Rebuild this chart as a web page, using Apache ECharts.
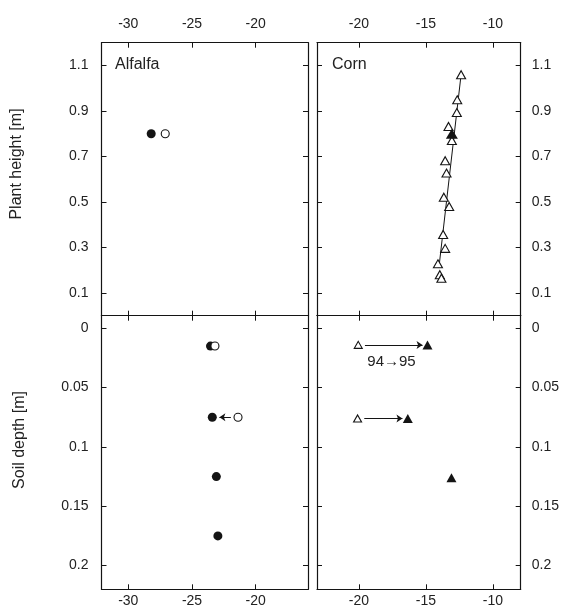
<!DOCTYPE html>
<html>
<head>
<meta charset="utf-8">
<script src="https://cdn.jsdelivr.net/npm/echarts@6/dist/echarts.min.js"></script>
<style>
  html, body { margin: 0; padding: 0; background: #fff; }
  #chart { width: 568px; height: 616px; }
</style>
</head>
<body>
<div id="chart"></div>
<script>
// Tick values for the four panels
const xTicksAlfalfa = [-30, -25, -20];
const xTicksCorn = [-20, -15, -10];
const heightTicks = [0.1, 0.3, 0.5, 0.7, 0.9, 1.1];
const depthTicks = [0, 0.05, 0.1, 0.15, 0.2];

// Alfalfa, plant height (x = delta value, y = height in m)
const alfalfaPlant94 = [[-27.1, 0.8]];
const alfalfaPlant95 = [[-28.2, 0.8]];

// Corn, plant height
const cornPlant94 = [
  [-12.37, 1.059], [-12.66, 0.949], [-12.69, 0.893], [-13.31, 0.832],
  [-13.06, 0.770], [-13.56, 0.681], [-13.46, 0.627], [-13.66, 0.521],
  [-13.26, 0.480], [-13.71, 0.357], [-13.56, 0.296], [-14.10, 0.228],
  [-13.96, 0.180], [-13.84, 0.165]
];
const cornPlant95 = [[-13.06, 0.80]];
const cornFit = [[-14.03, 0.21], [-12.37, 1.06]];

// Alfalfa, soil depth (y = depth in m)
const alfalfaSoil94 = [[-23.2, 0.015], [-21.39, 0.075]];
const alfalfaSoil95 = [[-23.55, 0.015], [-23.41, 0.075], [-23.09, 0.125], [-22.97, 0.175]];
const alfalfaShift = [[[-21.95, 0.075], [-22.85, 0.075]]];

// Corn, soil depth
const cornSoil94 = [[-20.05, 0.014], [-20.1, 0.076]];
const cornSoil95 = [[-14.88, 0.014], [-16.35, 0.076], [-13.09, 0.126]];
const cornShift = [
  [[-19.55, 0.014], [-15.25, 0.014]],
  [[-19.6, 0.076], [-16.75, 0.076]]
];

const INK = '#141414';
const FONT = 'Liberation Sans, Arial, Helvetica, sans-serif';

const grids = [
  { left: 101.5, top: 42.7, width: 206.5, height: 273 },
  { left: 317, top: 42.7, width: 203.7, height: 273 },
  { left: 101.5, top: 315.7, width: 206.5, height: 273.6 },
  { left: 317, top: 315.7, width: 203.7, height: 273.6 }
];

function xAxis(gridIndex, position, ticks, showLabels, min, max) {
  return {
    type: 'value', gridIndex, position, min, max,
    axisLine: { show: true, onZero: false, lineStyle: { color: INK, width: 1.2 } },
    axisTick: { show: true, inside: true, length: 5, customValues: ticks, lineStyle: { color: INK, width: 1 } },
    axisLabel: {
      show: showLabels, customValues: ticks, color: '#222', fontSize: 14, fontFamily: FONT,
      margin: position === 'top' ? 12 : 5
    },
    splitLine: { show: false }
  };
}

function yAxis(gridIndex, position, ticks, showLabels, min, max, inverse) {
  return {
    type: 'value', gridIndex, position, min, max, inverse: !!inverse,
    axisLine: { show: true, onZero: false, lineStyle: { color: INK, width: 1.2 } },
    axisTick: { show: true, inside: true, length: 5, customValues: ticks, lineStyle: { color: INK, width: 1 } },
    axisLabel: {
      show: showLabels, customValues: ticks, color: '#222', fontSize: 14, fontFamily: FONT,
      margin: position === 'left' ? 13 : 11
    },
    splitLine: { show: false }
  };
}

const xA = [-32.1, -15.9], xC = [-23.13, -7.92];
const yH = [0, 1.2], yD = [-0.0106, 0.22];

const xAxes = [
  xAxis(0, 'top', xTicksAlfalfa, true, ...xA),
  xAxis(0, 'bottom', xTicksAlfalfa, false, ...xA),
  xAxis(1, 'top', xTicksCorn, true, ...xC),
  xAxis(1, 'bottom', xTicksCorn, false, ...xC),
  xAxis(2, 'top', xTicksAlfalfa, false, ...xA),
  xAxis(2, 'bottom', xTicksAlfalfa, true, ...xA),
  xAxis(3, 'top', xTicksCorn, false, ...xC),
  xAxis(3, 'bottom', xTicksCorn, true, ...xC)
];
const yAxes = [
  yAxis(0, 'left', heightTicks, true, ...yH),
  yAxis(0, 'right', heightTicks, false, ...yH),
  yAxis(1, 'left', heightTicks, false, ...yH),
  yAxis(1, 'right', heightTicks, true, ...yH),
  yAxis(2, 'left', depthTicks, true, ...yD, true),
  yAxis(2, 'right', depthTicks, false, ...yD, true),
  yAxis(3, 'left', depthTicks, false, ...yD, true),
  yAxis(3, 'right', depthTicks, true, ...yD, true)
];

const openStyle = { color: '#fff', borderColor: INK, borderWidth: 1.1, opacity: 1 };
const solidStyle = { color: INK, borderColor: INK, borderWidth: 0, opacity: 1 };

function scatter(data, xi, yi, symbol, size, style, z) {
  return {
    type: 'scatter', data, xAxisIndex: xi, yAxisIndex: yi, symbol, symbolSize: size,
    itemStyle: style, z: z || 3, silent: true, emphasis: { disabled: true }
  };
}

function arrows(pairs, xi, yi) {
  return {
    type: 'lines', coordinateSystem: 'cartesian2d', xAxisIndex: xi, yAxisIndex: yi,
    data: pairs.map(c => ({ coords: c })),
    symbol: ['none', 'arrow'], symbolSize: [4, 6],
    lineStyle: { color: INK, width: 1, opacity: 1, curveness: 0 },
    silent: true, z: 2
  };
}

const series = [
  // Alfalfa plant
  scatter(alfalfaPlant95, 0, 0, 'circle', 9, solidStyle),
  scatter(alfalfaPlant94, 0, 0, 'circle', 8, openStyle),
  // Corn plant
  {
    type: 'line', data: cornFit, xAxisIndex: 2, yAxisIndex: 2, symbol: 'none',
    lineStyle: { color: INK, width: 1 }, silent: true, z: 1
  },
  scatter(cornPlant94, 2, 2, 'triangle', [9, 8], openStyle),
  scatter(cornPlant95, 2, 2, 'triangle', [12, 10], solidStyle, 4),
  // Alfalfa soil
  scatter(alfalfaSoil95, 4, 4, 'circle', 9, solidStyle),
  scatter(alfalfaSoil94, 4, 4, 'circle', 8, openStyle, 4),
  arrows(alfalfaShift, 4, 4),
  // Corn soil
  scatter(cornSoil94, 6, 6, 'triangle', [8, 7], openStyle),
  scatter(cornSoil95, 6, 6, 'triangle', [10, 9], solidStyle),
  arrows(cornShift, 6, 6)
];

const chart = echarts.init(document.getElementById('chart'), null, { renderer: 'canvas' });
chart.setOption({
  animation: false,
  backgroundColor: '#fff',
  grid: grids,
  xAxis: xAxes,
  yAxis: yAxes,
  series,
  graphic: [
    { type: 'text', left: 115, top: 57, style: { text: 'Alfalfa', font: '16px ' + FONT, fill: '#222' } },
    { type: 'text', left: 332, top: 57, style: { text: 'Corn', font: '16px ' + FONT, fill: '#222' } },
    { type: 'text', x: 391.5, y: 362, style: { text: '94\u219295', font: '15px ' + FONT, fill: '#222', align: 'center', verticalAlign: 'middle' } },
    { type: 'text', x: 17, y: 164, rotation: Math.PI / 2, style: { text: 'Plant height [m]', font: '16px ' + FONT, fill: '#222', align: 'center', verticalAlign: 'middle' } },
    { type: 'text', x: 20, y: 440, rotation: Math.PI / 2, style: { text: 'Soil depth [m]', font: '16px ' + FONT, fill: '#222', align: 'center', verticalAlign: 'middle' } }
  ]
});
</script>
</body>
</html>
